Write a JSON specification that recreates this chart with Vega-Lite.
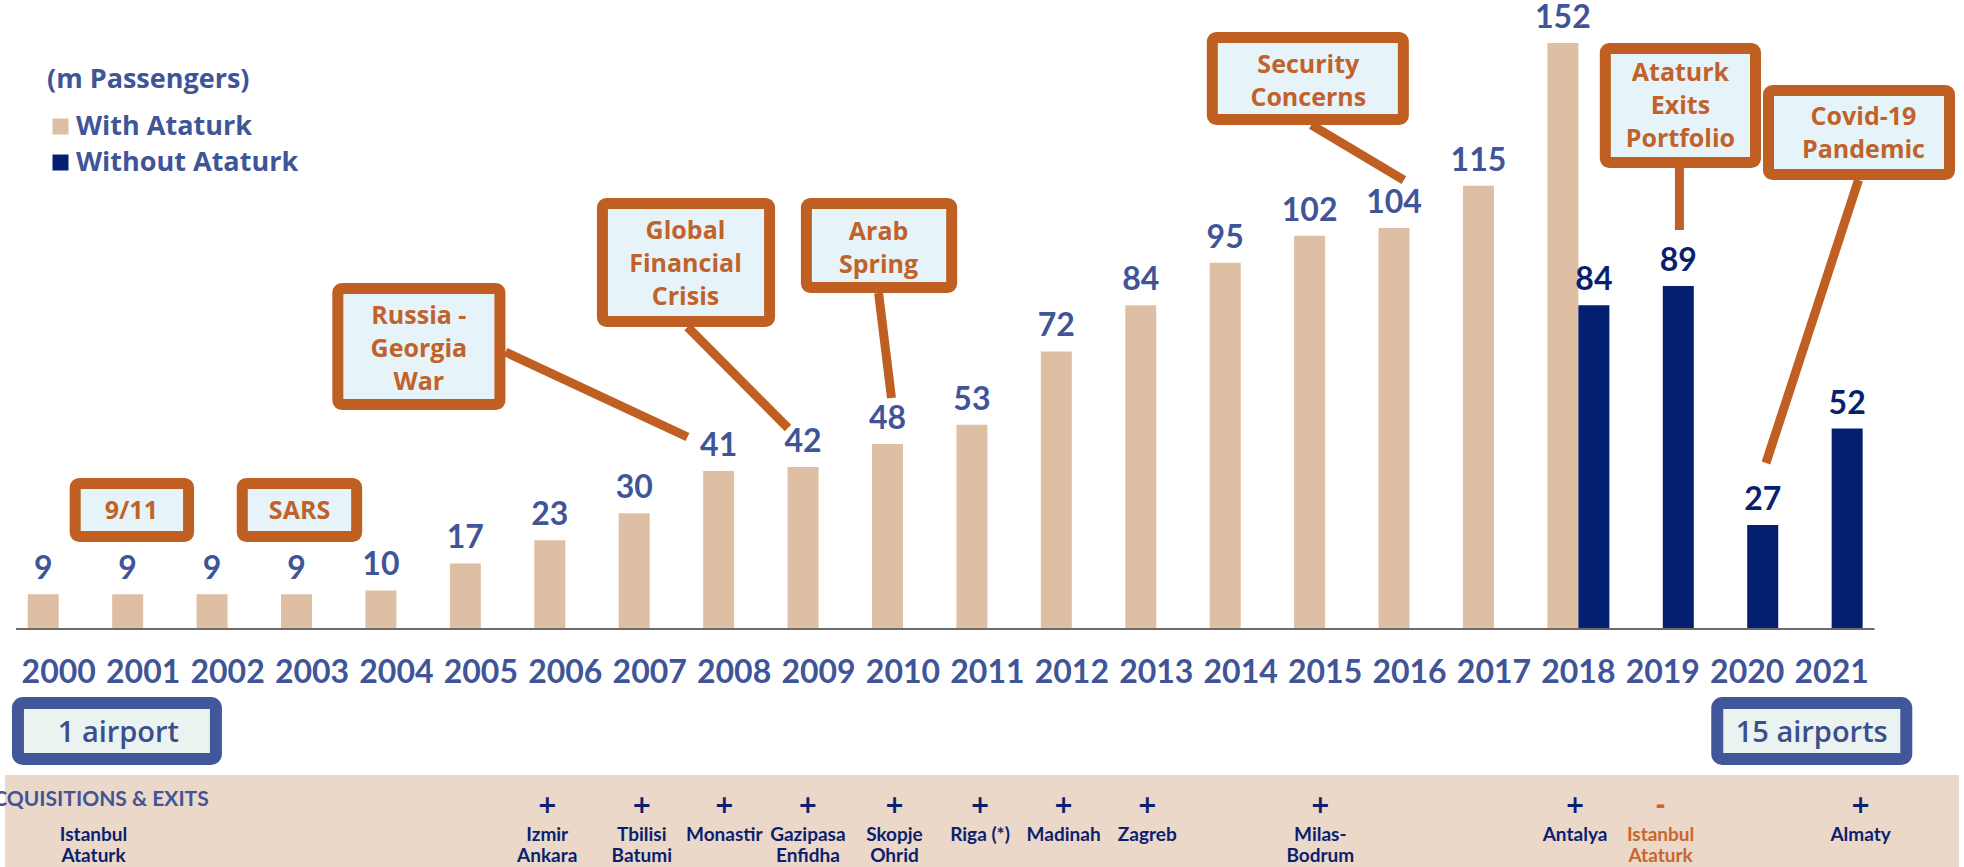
{
  "$schema": "https://vega.github.io/schema/vega-lite/v6.json",
  "width": 1964,
  "height": 867,
  "autosize": {"type": "none"},
  "padding": 0,
  "background": "#ffffff",
  "config": {"view": {"stroke": null}},
  "datasets": {
    "pax": [
      {"year": 2000, "series": "With Ataturk", "value": 9},
      {"year": 2001, "series": "With Ataturk", "value": 9},
      {"year": 2002, "series": "With Ataturk", "value": 9},
      {"year": 2003, "series": "With Ataturk", "value": 9},
      {"year": 2004, "series": "With Ataturk", "value": 10},
      {"year": 2005, "series": "With Ataturk", "value": 17},
      {"year": 2006, "series": "With Ataturk", "value": 23},
      {"year": 2007, "series": "With Ataturk", "value": 30},
      {"year": 2008, "series": "With Ataturk", "value": 41},
      {"year": 2009, "series": "With Ataturk", "value": 42},
      {"year": 2010, "series": "With Ataturk", "value": 48},
      {"year": 2011, "series": "With Ataturk", "value": 53},
      {"year": 2012, "series": "With Ataturk", "value": 72},
      {"year": 2013, "series": "With Ataturk", "value": 84},
      {"year": 2014, "series": "With Ataturk", "value": 95},
      {"year": 2015, "series": "With Ataturk", "value": 102},
      {"year": 2016, "series": "With Ataturk", "value": 104},
      {"year": 2017, "series": "With Ataturk", "value": 115},
      {"year": 2018, "series": "With Ataturk", "value": 152},
      {"year": 2018, "series": "Without Ataturk", "value": 84},
      {"year": 2019, "series": "Without Ataturk", "value": 89},
      {"year": 2020, "series": "Without Ataturk", "value": 27},
      {"year": 2021, "series": "Without Ataturk", "value": 52}
    ],
    "events": [
      {"text": ["9/11"], "x1": 2000.195, "x2": 2001.538, "y1": 24.0, "y2": 37.74, "cx": 2000.86, "ty": 30.6},
      {"text": ["SARS"], "x1": 2002.174, "x2": 2003.529, "y1": 24.0, "y2": 37.74, "cx": 2002.852, "ty": 30.6},
      {"text": ["Russia -", "Georgia", "War"], "x1": 2003.306, "x2": 2005.226, "y1": 58.23, "y2": 88.32, "cx": 2004.266, "ty": 81.2},
      {"text": ["Global", "Financial", "Crisis"], "x1": 2006.44, "x2": 2008.42, "y1": 79.76, "y2": 110.36, "cx": 2007.424, "ty": 103.25},
      {"text": ["Arab", "Spring"], "x1": 2008.856, "x2": 2010.577, "y1": 88.58, "y2": 110.36, "cx": 2009.711, "ty": 103.1},
      {"text": ["Security", "Concerns"], "x1": 2013.664, "x2": 2015.927, "y1": 132.16, "y2": 153.42, "cx": 2014.801, "ty": 146.4},
      {"text": ["Ataturk", "Exits", "Portfolio"], "x1": 2018.319, "x2": 2020.098, "y1": 121.01, "y2": 150.57, "cx": 2019.209, "ty": 144.2},
      {"text": ["Covid-19", "Pandemic"], "x1": 2020.252, "x2": 2022.396, "y1": 117.89, "y2": 139.67, "cx": 2021.377, "ty": 132.7}
    ],
    "links": [
      {"x1": 2005.291, "y1": 71.85, "x2": 2007.448, "y2": 49.8},
      {"x1": 2007.448, "y1": 78.33, "x2": 2008.638, "y2": 52.14},
      {"x1": 2009.711, "y1": 87.15, "x2": 2009.864, "y2": 59.92},
      {"x1": 2014.837, "y1": 130.73, "x2": 2015.933, "y2": 116.46},
      {"x1": 2019.197, "y1": 119.58, "x2": 2019.197, "y2": 103.49},
      {"x1": 2021.318, "y1": 116.46, "x2": 2020.222, "y2": 43.06}
    ],
    "counts": [
      {"text": "1 airport", "x1": 1999.517, "x2": 2001.862, "y1": -33.72, "y2": -19.19, "cx": 2000.707, "cy": -27.0},
      {"text": "15 airports", "x1": 2019.645, "x2": 2021.884, "y1": -33.72, "y2": -19.19, "cx": 2020.764, "cy": -27.0}
    ],
    "airports": [
      {"pos": 2000.412, "sign": "", "name": ["Istanbul", "Ataturk"], "kind": "initial"},
      {"pos": 2005.786, "sign": "+", "name": ["Izmir", "Ankara"], "kind": "acquisition"},
      {"pos": 2006.906, "sign": "+", "name": ["Tbilisi", "Batumi"], "kind": "acquisition"},
      {"pos": 2007.884, "sign": "+", "name": ["Monastir"], "kind": "acquisition"},
      {"pos": 2008.874, "sign": "+", "name": ["Gazipasa", "Enfidha"], "kind": "acquisition"},
      {"pos": 2009.899, "sign": "+", "name": ["Skopje", "Ohrid"], "kind": "acquisition"},
      {"pos": 2010.913, "sign": "+", "name": ["Riga (*)"], "kind": "acquisition"},
      {"pos": 2011.903, "sign": "+", "name": ["Madinah"], "kind": "acquisition"},
      {"pos": 2012.893, "sign": "+", "name": ["Zagreb"], "kind": "acquisition"},
      {"pos": 2014.943, "sign": "+", "name": ["Milas-", "Bodrum"], "kind": "acquisition"},
      {"pos": 2017.96, "sign": "+", "name": ["Antalya"], "kind": "acquisition"},
      {"pos": 2018.974, "sign": "-", "name": ["Istanbul", "Ataturk"], "kind": "exit"},
      {"pos": 2021.343, "sign": "+", "name": ["Almaty"], "kind": "acquisition"}
    ]
  },
  "layer": [
    {
      "data": {"values": [{"section": "ACQUISITIONS & EXITS"}]},
      "mark": {"type": "rect", "color": "#ebd8c9"},
      "encoding": {
        "x": {"datum": 1999.3636, "type": "quantitative", "scale": {"domain": [1999.3636, 2022.5084], "nice": false, "zero": false}, "axis": null},
        "x2": {"datum": 2022.5084},
        "y": {"datum": -37.87, "type": "quantitative", "scale": {"domain": [-61.73, 163.15], "nice": false, "zero": false}, "axis": null},
        "y2": {"datum": -61.73}
      }
    },
    {
      "data": {"name": "pax"},
      "transform": [{"filter": "datum.series === 'With Ataturk'"}],
      "mark": {"type": "bar", "width": 31, "xOffset": -15.5},
      "encoding": {
        "x": {"field": "year", "type": "quantitative", "scale": {"domain": [1999.3636, 2022.5084], "nice": false, "zero": false}, "axis": null},
        "y": {"field": "value", "type": "quantitative", "scale": {"domain": [-61.73, 163.15], "nice": false, "zero": false}, "axis": null},
        "y2": {"datum": 0},
        "color": {"field": "series", "type": "nominal",
          "scale": {"domain": ["With Ataturk", "Without Ataturk"], "range": ["#dfbfa3", "#041e70"]},
          "legend": {"orient": "none", "legendX": 47, "legendY": 67, "title": "(m Passengers)",
            "titleFont": "Open Sans", "titleFontSize": 27, "titleFontWeight": "bold", "titleColor": "#3f5597", "titlePadding": 19, "titleLimit": 600,
            "labelFont": "Open Sans", "labelFontSize": 27, "labelFontWeight": "bold", "labelColor": "#3f5597", "labelLimit": 600,
            "symbolType": "square", "symbolSize": 256, "symbolStrokeWidth": 0, "symbolOpacity": 1,
            "labelOffset": 2, "rowPadding": 8, "padding": 0, "offset": 0}}
      }
    },
    {
      "data": {"name": "pax"},
      "transform": [{"filter": "datum.series === 'Without Ataturk'"}],
      "mark": {"type": "bar", "width": 31, "xOffset": 15.5},
      "encoding": {
        "x": {"field": "year", "type": "quantitative", "scale": {"domain": [1999.3636, 2022.5084], "nice": false, "zero": false}, "axis": null},
        "y": {"field": "value", "type": "quantitative", "scale": {"domain": [-61.73, 163.15], "nice": false, "zero": false}, "axis": null},
        "y2": {"datum": 0},
        "color": {"field": "series", "type": "nominal",
          "scale": {"domain": ["With Ataturk", "Without Ataturk"], "range": ["#dfbfa3", "#041e70"]}}
      }
    },
    {
      "data": {"values": [{"line": "baseline"}]},
      "mark": {"type": "rule", "color": "#6b6b6b", "strokeWidth": 2},
      "encoding": {
        "x": {"datum": 1999.493, "type": "quantitative", "scale": {"domain": [1999.3636, 2022.5084], "nice": false, "zero": false}, "axis": null},
        "x2": {"datum": 2021.507},
        "y": {"datum": 0, "type": "quantitative", "scale": {"domain": [-61.73, 163.15], "nice": false, "zero": false}, "axis": null}
      }
    },
    {
      "data": {"name": "pax"},
      "transform": [{"aggregate": [{"op": "count", "as": "n"}], "groupby": ["year"]}],
      "mark": {"type": "text", "baseline": "alphabetic", "align": "center", "font": "Lato", "fontSize": 32, "fontWeight": "bold", "color": "#3f5597"},
      "encoding": {
        "x": {"field": "year", "type": "quantitative", "scale": {"domain": [1999.3636, 2022.5084], "nice": false, "zero": false}, "axis": null},
        "y": {"datum": -14.01, "type": "quantitative", "scale": {"domain": [-61.73, 163.15], "nice": false, "zero": false}, "axis": null},
        "text": {"field": "year", "type": "quantitative", "format": "d"}
      }
    },
    {
      "data": {"name": "pax"},
      "transform": [{"filter": "datum.series === 'With Ataturk'"}],
      "mark": {"type": "text", "xOffset": -15.5, "dy": -15, "baseline": "alphabetic", "align": "center", "font": "Lato", "fontSize": 32, "fontWeight": "bold", "color": "#3f5597"},
      "encoding": {
        "x": {"field": "year", "type": "quantitative", "scale": {"domain": [1999.3636, 2022.5084], "nice": false, "zero": false}, "axis": null},
        "y": {"field": "value", "type": "quantitative", "scale": {"domain": [-61.73, 163.15], "nice": false, "zero": false}, "axis": null},
        "text": {"field": "value", "type": "quantitative", "format": "d"}
      }
    },
    {
      "data": {"name": "pax"},
      "transform": [{"filter": "datum.series === 'Without Ataturk'"}],
      "mark": {"type": "text", "xOffset": 15.5, "dy": -15, "baseline": "alphabetic", "align": "center", "font": "Lato", "fontSize": 32, "fontWeight": "bold", "color": "#0a1f6f"},
      "encoding": {
        "x": {"field": "year", "type": "quantitative", "scale": {"domain": [1999.3636, 2022.5084], "nice": false, "zero": false}, "axis": null},
        "y": {"field": "value", "type": "quantitative", "scale": {"domain": [-61.73, 163.15], "nice": false, "zero": false}, "axis": null},
        "text": {"field": "value", "type": "quantitative", "format": "d"}
      }
    },
    {
      "data": {"name": "links"},
      "mark": {"type": "rule", "color": "#c05f22", "strokeWidth": 9},
      "encoding": {
        "x": {"field": "x1", "type": "quantitative", "scale": {"domain": [1999.3636, 2022.5084], "nice": false, "zero": false}, "axis": null},
        "x2": {"field": "x2"},
        "y": {"field": "y1", "type": "quantitative", "scale": {"domain": [-61.73, 163.15], "nice": false, "zero": false}, "axis": null},
        "y2": {"field": "y2"}
      }
    },
    {
      "data": {"name": "events"},
      "mark": {"type": "rect", "fill": "#e6f3f9", "stroke": "#c05f22", "strokeWidth": 11, "cornerRadius": 4},
      "encoding": {
        "x": {"field": "x1", "type": "quantitative", "scale": {"domain": [1999.3636, 2022.5084], "nice": false, "zero": false}, "axis": null},
        "x2": {"field": "x2"},
        "y": {"field": "y1", "type": "quantitative", "scale": {"domain": [-61.73, 163.15], "nice": false, "zero": false}, "axis": null},
        "y2": {"field": "y2"}
      }
    },
    {
      "data": {"name": "events"},
      "mark": {"type": "text", "align": "center", "baseline": "middle", "font": "Open Sans", "fontSize": 25, "fontWeight": "bold", "lineHeight": 33, "color": "#c0622a"},
      "encoding": {
        "x": {"field": "cx", "type": "quantitative", "scale": {"domain": [1999.3636, 2022.5084], "nice": false, "zero": false}, "axis": null},
        "y": {"field": "ty", "type": "quantitative", "scale": {"domain": [-61.73, 163.15], "nice": false, "zero": false}, "axis": null},
        "text": {"field": "text", "type": "nominal"}
      }
    },
    {
      "data": {"name": "counts"},
      "mark": {"type": "rect", "fill": "#eaf3f0", "stroke": "#42579a", "strokeWidth": 12, "cornerRadius": 5},
      "encoding": {
        "x": {"field": "x1", "type": "quantitative", "scale": {"domain": [1999.3636, 2022.5084], "nice": false, "zero": false}, "axis": null},
        "x2": {"field": "x2"},
        "y": {"field": "y1", "type": "quantitative", "scale": {"domain": [-61.73, 163.15], "nice": false, "zero": false}, "axis": null},
        "y2": {"field": "y2"}
      }
    },
    {
      "data": {"name": "counts"},
      "mark": {"type": "text", "align": "center", "baseline": "middle", "font": "Open Sans", "fontSize": 29, "fontWeight": 600, "color": "#3c4f8c"},
      "encoding": {
        "x": {"field": "cx", "type": "quantitative", "scale": {"domain": [1999.3636, 2022.5084], "nice": false, "zero": false}, "axis": null},
        "y": {"field": "cy", "type": "quantitative", "scale": {"domain": [-61.73, 163.15], "nice": false, "zero": false}, "axis": null},
        "text": {"field": "text", "type": "nominal"}
      }
    },
    {
      "data": {"values": [{"section": "ACQUISITIONS & EXITS"}]},
      "mark": {"type": "text", "align": "left", "baseline": "alphabetic", "font": "Lato", "fontSize": 21, "fontWeight": "bold", "color": "#3f5597"},
      "encoding": {
        "x": {"datum": 1999.057, "type": "quantitative", "scale": {"domain": [1999.3636, 2022.5084], "nice": false, "zero": false}, "axis": null},
        "y": {"datum": -45.91, "type": "quantitative", "scale": {"domain": [-61.73, 163.15], "nice": false, "zero": false}, "axis": null},
        "text": {"field": "section", "type": "nominal"}
      }
    },
    {
      "data": {"name": "airports"},
      "mark": {"type": "text", "align": "center", "baseline": "middle", "font": "DejaVu Sans", "fontSize": 24, "fontWeight": "bold"},
      "encoding": {
        "x": {"field": "pos", "type": "quantitative", "scale": {"domain": [1999.3636, 2022.5084], "nice": false, "zero": false}, "axis": null},
        "y": {"datum": -45.91, "type": "quantitative", "scale": {"domain": [-61.73, 163.15], "nice": false, "zero": false}, "axis": null},
        "text": {"field": "sign", "type": "nominal"},
        "color": {"condition": {"test": "datum.kind === 'exit'", "value": "#c8672a"}, "value": "#0b1f6e"}
      }
    },
    {
      "data": {"name": "airports"},
      "mark": {"type": "text", "align": "center", "baseline": "top", "font": "Lato", "fontSize": 19, "fontWeight": "bold", "lineHeight": 21},
      "encoding": {
        "x": {"field": "pos", "type": "quantitative", "scale": {"domain": [1999.3636, 2022.5084], "nice": false, "zero": false}, "axis": null},
        "y": {"datum": -51.02, "type": "quantitative", "scale": {"domain": [-61.73, 163.15], "nice": false, "zero": false}, "axis": null},
        "text": {"field": "name", "type": "nominal"},
        "color": {"condition": {"test": "datum.kind === 'exit'", "value": "#c8672a"}, "value": "#0b1f6e"}
      }
    }
  ]
}
